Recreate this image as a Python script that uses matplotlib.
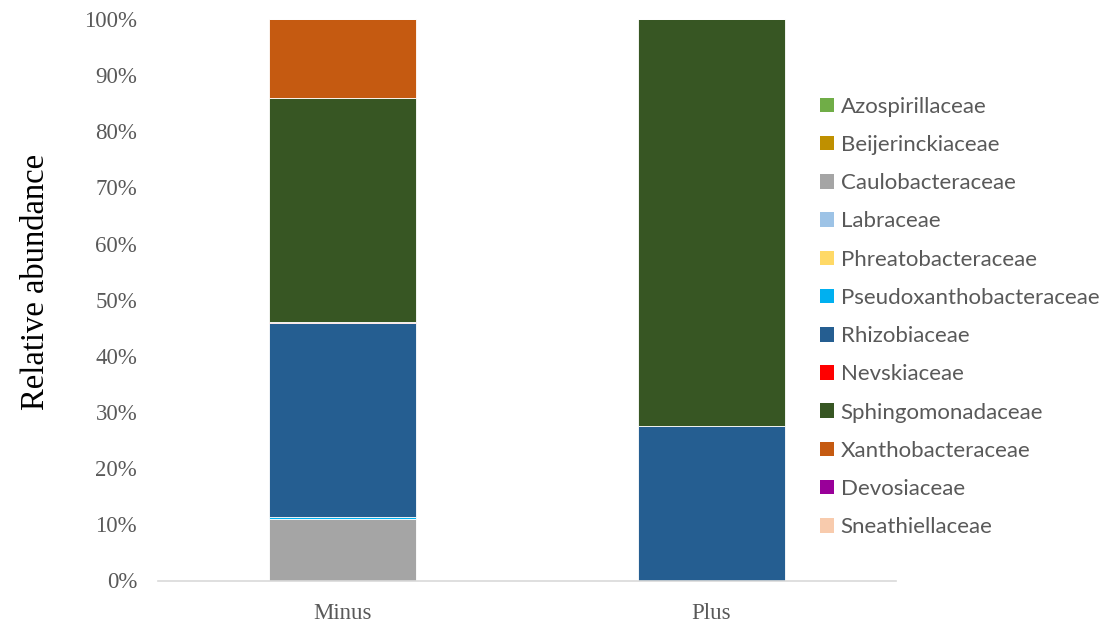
import matplotlib
matplotlib.use("Agg")
import matplotlib.pyplot as plt
from matplotlib.patches import Patch
from matplotlib.ticker import FuncFormatter

samples = ["Minus", "Plus"]

families = [
    "Azospirillaceae", "Beijerinckiaceae", "Caulobacteraceae", "Labraceae",
    "Phreatobacteraceae", "Pseudoxanthobacteraceae", "Rhizobiaceae",
    "Nevskiaceae", "Sphingomonadaceae", "Xanthobacteraceae",
    "Devosiaceae", "Sneathiellaceae",
]

colors = [
    "#70ad47", "#bf9000", "#a5a5a5", "#9dc3e6", "#ffd966", "#00b0f0",
    "#255e91", "#ff0000", "#375623", "#c55a11", "#990099", "#f8cbad",
]

# relative abundance (%) per family: [Minus, Plus]
azospirillaceae = [0.0, 0.0]
beijerinckiaceae = [0.0, 0.0]
caulobacteraceae = [11.0, 0.0]
labraceae = [0.0, 0.0]
phreatobacteraceae = [0.0, 0.0]
pseudoxanthobacteraceae = [0.3, 0.0]
rhizobiaceae = [34.5, 27.5]
nevskiaceae = [0.2, 0.0]
sphingomonadaceae = [40.0, 72.5]
xanthobacteraceae = [14.0, 0.0]
devosiaceae = [0.0, 0.0]
sneathiellaceae = [0.0, 0.0]

values = [
    azospirillaceae, beijerinckiaceae, caulobacteraceae, labraceae,
    phreatobacteraceae, pseudoxanthobacteraceae, rhizobiaceae,
    nevskiaceae, sphingomonadaceae, xanthobacteraceae,
    devosiaceae, sneathiellaceae,
]

fig = plt.figure(figsize=(11.02, 6.25), dpi=100)
ax = fig.add_axes([158 / 1102, 1 - 580.5 / 625, (896 - 158) / 1102, (580.5 - 19) / 625])

x = list(range(len(samples)))
bottom = [0.0] * len(samples)
for name, vals, col in zip(families, values, colors):
    ax.bar(x, vals, width=0.4, bottom=bottom, color=col,
           edgecolor="white", linewidth=0.6, zorder=2)
    bottom = [b + v for b, v in zip(bottom, vals)]

ax.set_xlim(-0.5, 1.5)
ax.set_ylim(0, 100)
ax.set_yticks(range(0, 101, 10))
ax.yaxis.set_major_formatter(FuncFormatter(lambda v, _: f"{int(v)}%"))
ax.set_xticks(x)
ax.set_xticklabels(samples)

for side in ("top", "right", "left"):
    ax.spines[side].set_visible(False)
ax.spines["bottom"].set_color("#d9d9d9")
ax.spines["bottom"].set_linewidth(1.2)
ax.tick_params(length=0, colors="#595959", labelsize=16.5)
ax.tick_params(axis="y", pad=15)
ax.tick_params(axis="x", pad=16)
for lab in ax.get_xticklabels() + ax.get_yticklabels():
    lab.set_fontfamily("Liberation Serif")

fig.text(36 / 1102, 1 - 282 / 625, "Relative abundance", rotation=90,
         ha="center", va="center", fontsize=23.5, family="Liberation Serif",
         color="black")

handles = [Patch(facecolor=c, edgecolor="none") for c in colors]
leg = fig.legend(handles, families, loc="center left",
                 bbox_to_anchor=(800 / 1102, 1 - 317 / 625), frameon=False,
                 handlelength=0.63, handleheight=0.63, handletextpad=0.3,
                 labelspacing=0.82,
                 prop={"family": "Lato", "size": 16})
for t in leg.get_texts():
    t.set_color("#595959")

fig.savefig("out.png", dpi=100)
